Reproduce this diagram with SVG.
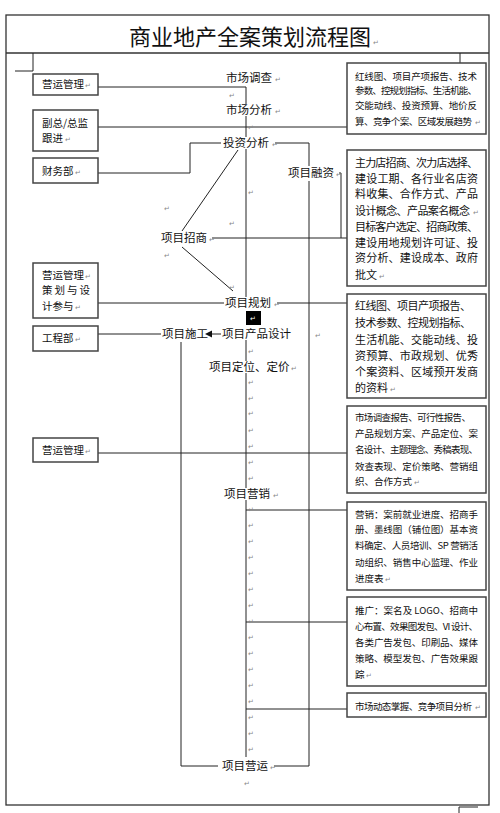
<svg xmlns="http://www.w3.org/2000/svg" width="500" height="813" viewBox="0 0 500 813">
<style>
.frame{fill:none;stroke:#333;stroke-width:1.3}
.box{fill:#fff;stroke:#444;stroke-width:1.5}
.ln{fill:none;stroke:#222;stroke-width:1}
.t{font-family:"Noto Sans CJK SC","Noto Sans",sans-serif;fill:#111}
.lbl{font-size:11.5px}
.lb{font-size:10.5px}
.s{font-size:9.5px}
.m{font-size:11px}
.pm{font-family:"DejaVu Sans",sans-serif;font-size:7px;fill:#888}
</style>
<rect width="500" height="813" fill="#fff"/>
<g id="frame">
<rect class="frame" x="6" y="15" width="483" height="790"/>
<line class="frame" x1="6" y1="53" x2="489" y2="53"/>
<path class="ln" d="M33 53V71H15M460 53V63M459 813V807H478" stroke="#888"/>
</g>
<g id="title"><text class="t" x="250" y="45" font-size="22" text-anchor="middle">商业地产全案策划流程图</text><text class="pm" x="373" y="45">↵</text></g>

<g id="connectors">
<path class="ln" d="M98 87H246V104"/>
<path class="ln" d="M98 127H347"/>
<path class="ln" d="M98 173H190V143H221"/>
<path class="ln" d="M246 116V137M246 149V297M246 340V361M246 373V488M246 500V757"/>
<path class="ln" d="M275 143H309V166M309 181V766H274"/>
<path class="ln" d="M339 173H341V238"/>
<path class="ln" d="M212 238H347"/>
<path class="ln" d="M182 231L238 150M182 247L233 291"/>
<path class="ln" d="M98 303H224M277 303H347"/>
<path class="ln" d="M98 334H161M221 334H211"/>
<polygon points="205,334 212,330.5 212,337.5" fill="#111"/>
<path class="ln" d="M181 342V766H218"/>
<path class="ln" d="M98 453H347"/>
<path class="ln" d="M246 510H347M246 622H347M246 709H347"/>
</g>

<g id="spine-labels">
<g id="n-sczc"><text class="t lbl" x="226" y="82">市场调查</text><text class="pm" x="275" y="82">↵</text></g>
<g id="n-scfx"><text class="t lbl" x="226" y="114">市场分析</text><text class="pm" x="275" y="114">↵</text></g>
<g id="n-tzfx"><text class="t lbl" x="223" y="147">投资分析</text><text class="pm" x="272" y="147">↵</text></g>
<g id="n-xmrz"><text class="t lbl" x="288" y="177">项目融资</text><text class="pm" x="336" y="177">↵</text></g>
<g id="n-xmzs"><text class="t lbl" x="161" y="242">项目招商</text><text class="pm" x="209" y="242">↵</text></g>
<g id="n-xmgh"><text class="t lbl" x="225" y="307">项目规划</text><text class="pm" x="274" y="307">↵</text></g>
<g id="n-sel"><rect x="246" y="311" width="15" height="14" fill="#000"/><text class="pm" x="250" y="321" style="fill:#fff">↵</text></g>
<g id="n-cpsj"><text class="t lbl" x="222" y="338">项目产品设计</text></g>
<g id="n-xmsg"><text class="t lbl" x="162" y="338">项目施工</text></g>
<g id="n-dwdj"><text class="t lbl" x="209" y="371">项目定位、定价</text><text class="pm" x="291" y="371">↵</text></g>
<g id="n-xmyx"><text class="t lbl" x="224" y="498">项目营销</text><text class="pm" x="273" y="498">↵</text></g>
<g id="n-xmyy"><text class="t lbl" x="222" y="770">项目营运</text><text class="pm" x="270" y="770">↵</text></g>
</g>

<g id="left-boxes">
<g id="l-yygl1"><rect class="box" x="33" y="74" width="65" height="21"/><text class="t lb" x="42" y="88">营运管理</text><text class="pm" x="85" y="88">↵</text></g>
<g id="l-fz"><rect class="box" x="33" y="110" width="65" height="41"/><text class="t lb" x="42" y="127">副总/总监</text><text class="t lb" x="42" y="142">跟进</text><text class="pm" x="65" y="142">↵</text></g>
<g id="l-cwb"><rect class="box" x="33" y="158" width="65" height="25"/><text class="t lb" x="42" y="175">财务部</text><text class="pm" x="75" y="175">↵</text></g>
<g id="l-yygl2"><rect class="box" x="33" y="263" width="65" height="55"/><text class="t lb" x="42" y="279">营运管理</text><text class="pm" x="85" y="279">↵</text><text class="t lb" x="42" y="294" textLength="48" lengthAdjust="spacing">策划与设</text><text class="t lb" x="42" y="310">计参与</text><text class="pm" x="75" y="310">↵</text></g>
<g id="l-gcb"><rect class="box" x="33" y="326" width="65" height="25"/><text class="t lb" x="42" y="342">工程部</text><text class="pm" x="75" y="342">↵</text></g>
<g id="l-yygl3"><rect class="box" x="33" y="438" width="65" height="24"/><text class="t lb" x="42" y="454">营运管理</text><text class="pm" x="85" y="454">↵</text></g>
</g>

<g id="right-boxes">
<g id="r1"><rect class="box" x="347" y="63" width="139" height="71"/>
<text class="t s" x="355" y="79.5" textLength="122" lengthAdjust="spacing">红线图、项目产项报告、技术</text>
<text class="t s" x="355" y="94" textLength="122" lengthAdjust="spacing">参数、控规划指标、生活机能、</text>
<text class="t s" x="355" y="109" textLength="122" lengthAdjust="spacing">交能动线、投资预算、地价反</text>
<text class="t s" x="355" y="124.5" textLength="117" lengthAdjust="spacing">算、竞争个案、区域发展趋势</text><text class="pm" x="475" y="124.5">↵</text></g>
<g id="r2"><rect class="box" x="347" y="150" width="139" height="136"/>
<text class="t m" x="355" y="167" textLength="123" lengthAdjust="spacing">主力店招商、次力店选择、</text>
<text class="t m" x="355" y="183" textLength="123" lengthAdjust="spacing">建设工期、各行业名店资</text>
<text class="t m" x="355" y="198" textLength="123" lengthAdjust="spacing">料收集、合作方式、产品</text>
<text class="t m" x="355" y="215" textLength="115" lengthAdjust="spacing">设计概念、产品案名概念</text><text class="pm" x="473" y="215">↵</text>
<text class="t m" x="355" y="231" textLength="123" lengthAdjust="spacing">目标客户选定、招商政策、</text>
<text class="t m" x="355" y="247" textLength="123" lengthAdjust="spacing">建设用地规划许可证、投</text>
<text class="t m" x="355" y="262" textLength="123" lengthAdjust="spacing">资分析、建设成本、政府</text>
<text class="t m" x="355" y="279">批文</text><text class="pm" x="379" y="279">↵</text></g>
<g id="r3"><rect class="box" x="347" y="294" width="139" height="104"/>
<text class="t m" x="355" y="310" textLength="116" lengthAdjust="spacing">红线图、项目产项报告、</text>
<text class="t m" x="355" y="327" textLength="116" lengthAdjust="spacing">技术参数、控规划指标、</text>
<text class="t m" x="355" y="344" textLength="123" lengthAdjust="spacing">生活机能、交能动线、投</text>
<text class="t m" x="355" y="360" textLength="123" lengthAdjust="spacing">资预算、市政规划、优秀</text>
<text class="t m" x="355" y="376" textLength="123" lengthAdjust="spacing">个案资料、区域预开发商</text>
<text class="t m" x="355" y="392">的资料</text><text class="pm" x="390" y="392">↵</text></g>
<g id="r4"><rect class="box" x="347" y="406" width="139" height="87"/>
<text class="t s" x="355" y="420.5" textLength="116" lengthAdjust="spacing">市场调查报告、可行性报告、</text>
<text class="t s" x="355" y="437" textLength="123" lengthAdjust="spacing">产品规划方案、产品定位、案</text>
<text class="t s" x="355" y="453" textLength="123" lengthAdjust="spacing">名设计、主题理念、秀稿表现、</text>
<text class="t s" x="355" y="470" textLength="123" lengthAdjust="spacing">效查表现、定价策略、营销组</text>
<text class="t s" x="355" y="485">织、合作方式</text><text class="pm" x="414" y="485">↵</text></g>
<g id="r5"><rect class="box" x="347" y="502" width="139" height="88"/>
<text class="t s" x="355" y="517.5" textLength="123" lengthAdjust="spacing">营销：案前就业进度、招商手</text>
<text class="t s" x="355" y="533" textLength="123" lengthAdjust="spacing">册、墨线图（铺位图）基本资</text>
<text class="t s" x="355" y="549" textLength="123" lengthAdjust="spacing">料确定、人员培训、SP 营销活</text>
<text class="t s" x="355" y="565.5" textLength="123" lengthAdjust="spacing">动组织、销售中心监理、作业</text>
<text class="t s" x="355" y="582">进度表</text><text class="pm" x="385" y="582">↵</text></g>
<g id="r6"><rect class="box" x="347" y="597" width="139" height="89"/>
<text class="t s" x="355" y="613.5" textLength="123" lengthAdjust="spacing">推广：案名及 LOGO、招商中</text>
<text class="t s" x="355" y="629.5" textLength="123" lengthAdjust="spacing">心布置、效果图发包、VI 设计、</text>
<text class="t s" x="355" y="645.5" textLength="123" lengthAdjust="spacing">各类广告发包、印刷品、媒体</text>
<text class="t s" x="355" y="661.5" textLength="123" lengthAdjust="spacing">策略、模型发包、广告效果跟</text>
<text class="t s" x="355" y="677.5">踪</text><text class="pm" x="366" y="677.5">↵</text></g>
<g id="r7"><rect class="box" x="347" y="693" width="139" height="24"/>
<text class="t s" x="355" y="709.5" textLength="117" lengthAdjust="spacing">市场动态掌握、竞争项目分析</text><text class="pm" x="475" y="709.5">↵</text></g>
</g>

<g id="marks">
<text class="pm" x="229" y="98">↵</text>
<text class="pm" x="248" y="130">↵</text>
<text class="pm" x="248" y="195">↵</text>
<text class="pm" x="164" y="211">↵</text>
<text class="pm" x="229" y="226">↵</text>
<text class="pm" x="164" y="258">↵</text>
<text class="pm" x="229" y="290">↵</text>
<text class="pm" x="315" y="338">↵</text>
<text class="pm" x="248" y="354">↵</text>
<text class="pm" x="248" y="385">↵</text>
<text class="pm" x="248" y="401">↵</text>
<text class="pm" x="248" y="416">↵</text>
<text class="pm" x="248" y="433">↵</text>
<text class="pm" x="248" y="449">↵</text>
<text class="pm" x="248" y="465">↵</text>
<text class="pm" x="248" y="481">↵</text>
<text class="pm" x="248" y="512">↵</text>
<text class="pm" x="248" y="528">↵</text>
<text class="pm" x="248" y="544">↵</text>
<text class="pm" x="248" y="560">↵</text>
<text class="pm" x="248" y="576">↵</text>
<text class="pm" x="248" y="592">↵</text>
<text class="pm" x="248" y="608">↵</text>
<text class="pm" x="248" y="624">↵</text>
<text class="pm" x="248" y="640">↵</text>
<text class="pm" x="248" y="656">↵</text>
<text class="pm" x="248" y="672">↵</text>
<text class="pm" x="248" y="688">↵</text>
<text class="pm" x="248" y="704">↵</text>
<text class="pm" x="248" y="720">↵</text>
<text class="pm" x="248" y="736">↵</text>
<text class="pm" x="248" y="752">↵</text>
<text class="pm" x="244" y="786">↵</text>
</g>
</svg>
